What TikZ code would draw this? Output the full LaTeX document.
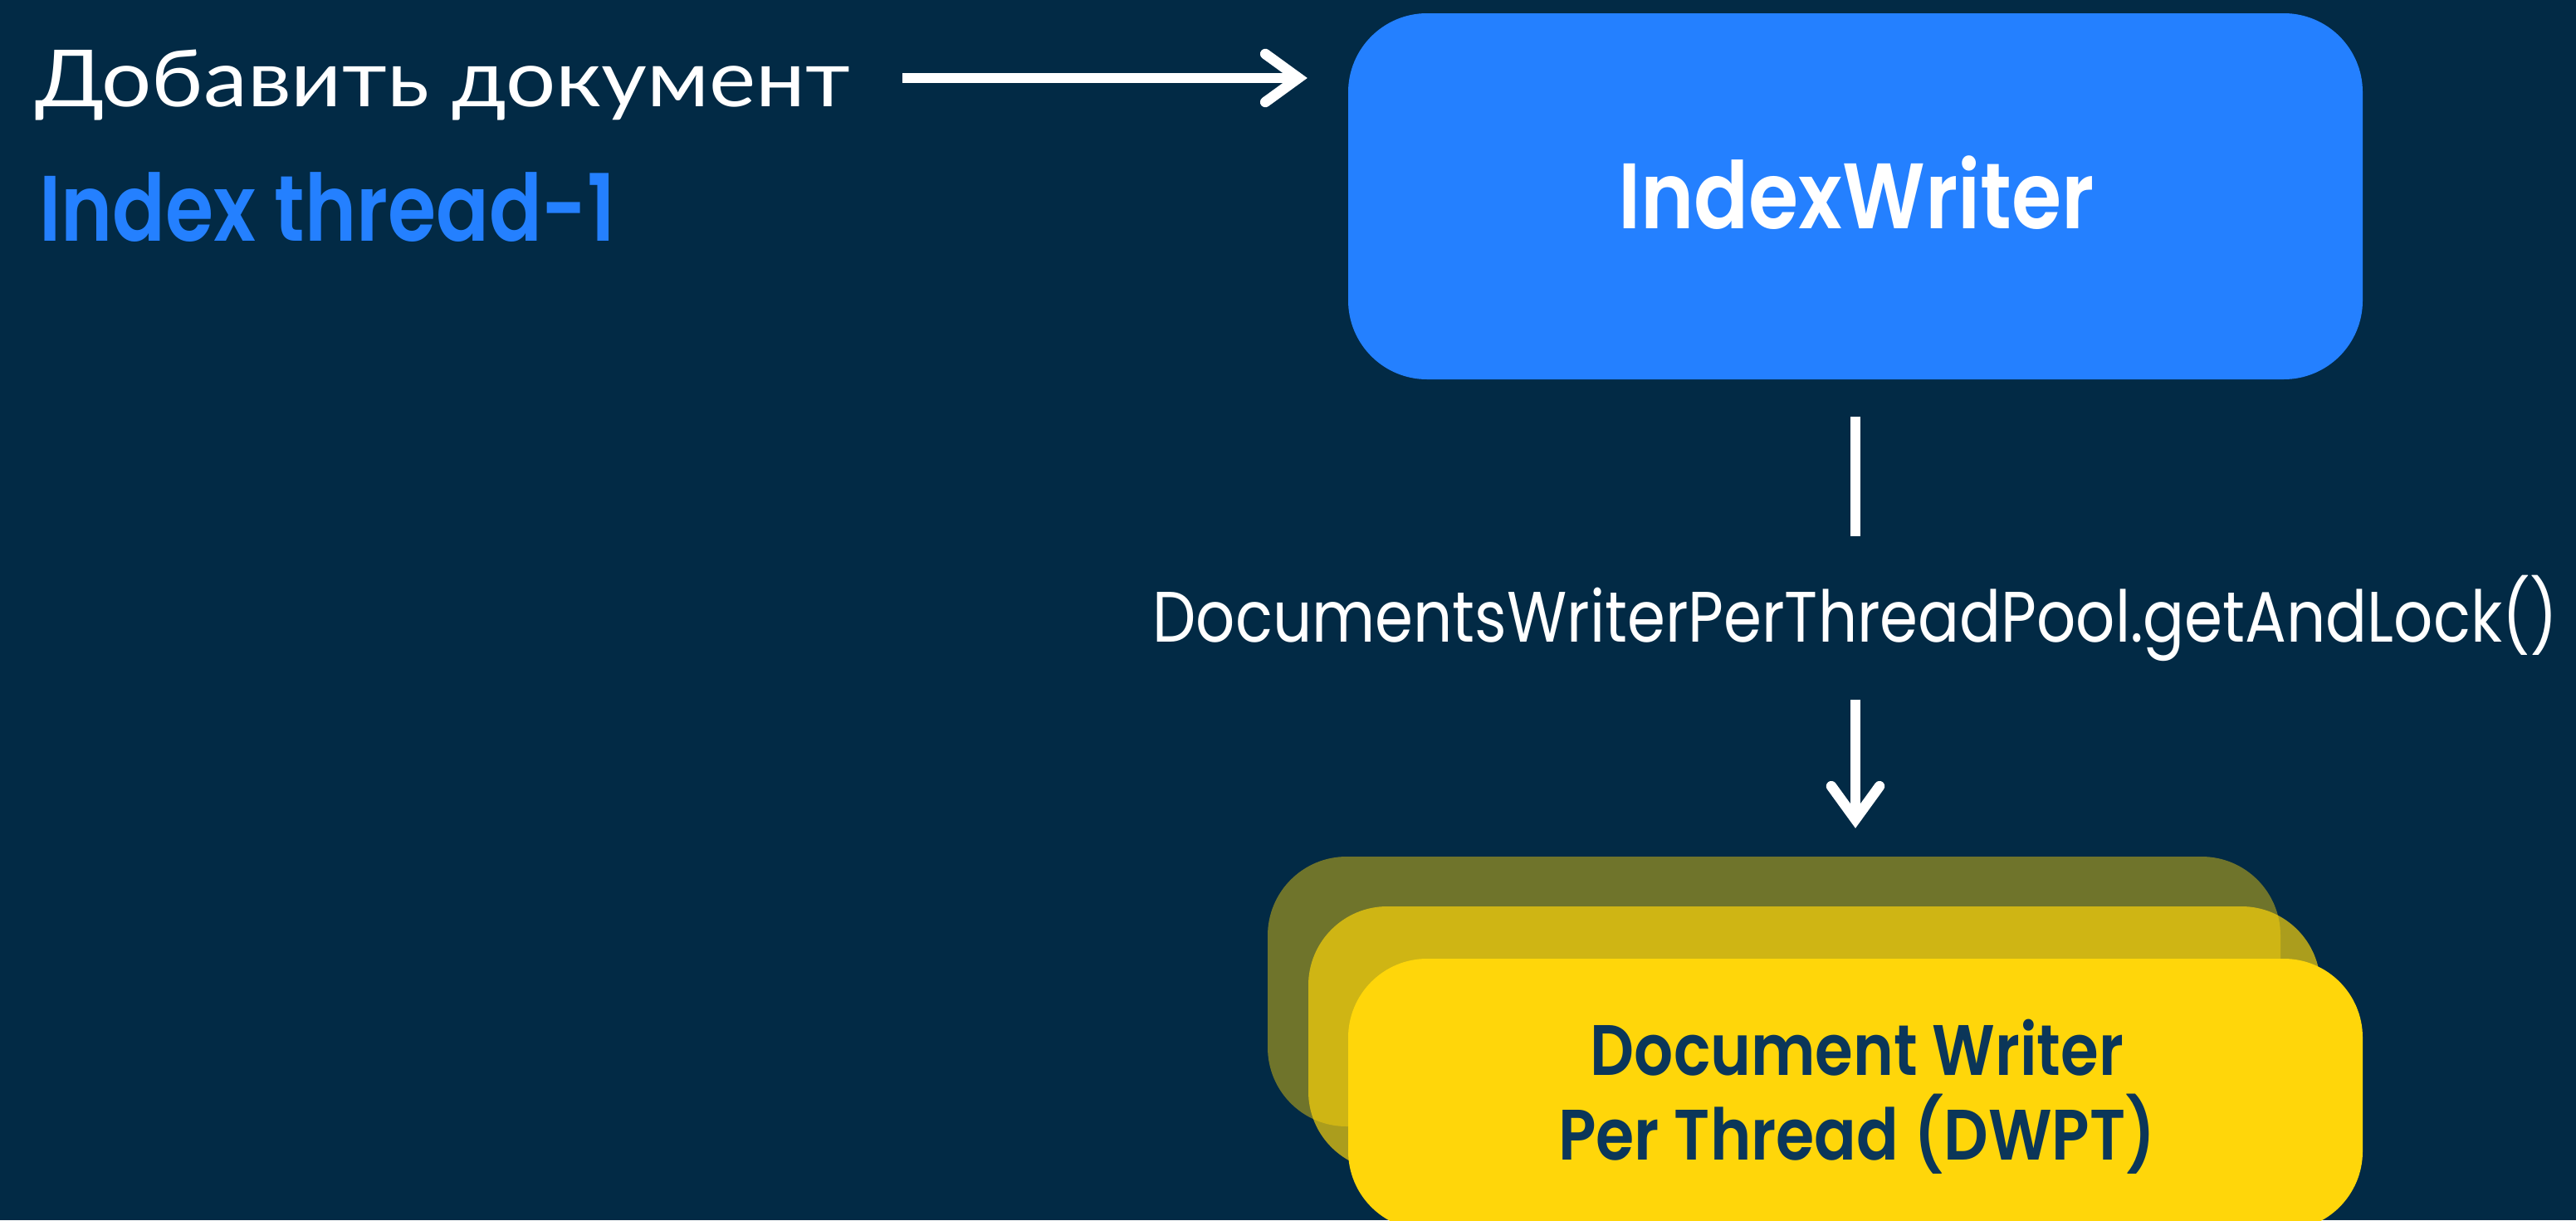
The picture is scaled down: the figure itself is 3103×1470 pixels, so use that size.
\documentclass[tikz,border=0pt]{standalone}
\usepackage{fontspec}
\setmainfont{Poppins}
\newfontfamily\psemi{Poppins SemiBold}
\newfontfamily\cyrfont{Lato}
\usetikzlibrary{arrows.meta}
\definecolor{bg}{HTML}{022A45}
\definecolor{iwblue}{HTML}{2480FF}
\definecolor{dwyellow}{HTML}{FFD60A}
\definecolor{dwtext}{HTML}{0B3659}
\begin{document}
\begin{tikzpicture}[x=1pt,y=-1pt,
  box/.style={rectangle,rounded corners=95pt,inner sep=0pt},
  txt/.style={inner sep=0pt,text depth=0pt},
  line/.style={draw=white,line width=12.5pt},
  conn/.style={line,-{Straight Barb[length=40pt,width=58pt,line cap=round]}}]
\fill[bg] (0,0) rectangle (3103,1470);
\useasboundingbox (0,0) rectangle (3103,1470);
% boxes
\node[box,fill=iwblue,minimum width=1222pt,minimum height=441pt] (iw) at (2235,236.5) {};
\node[txt,text height=78pt,text=white,font=\psemi\fontsize{112}{112}\selectfont] (iwt) at (2236,236) {\scalebox{0.87}[1]{IndexWriter}};
\node[box,fill=dwyellow,fill opacity=0.43,minimum width=1220pt,minimum height=325pt] (back) at (2137,1194.5) {};
\node[box,fill=dwyellow,fill opacity=0.67,minimum width=1219pt,minimum height=318pt] (mid) at (2185.5,1251) {};
\node[box,fill=dwyellow,minimum width=1222pt,minimum height=327pt] (front) at (2235,1318.5) {};
\node[txt,text height=60pt,text=dwtext,font=\psemi\fontsize{86}{86}\selectfont] (ft1) at (2237,1265) {\scalebox{0.86}[1]{Document Writer}};
\node[txt,text height=60pt,text=dwtext,font=\psemi\fontsize{86}{86}\selectfont] (ft2) at (2237,1367) {\scalebox{0.87}[1]{Per Thread (DWPT)}};
% left texts
\node[txt,anchor=west,text height=68pt,text=white,font=\cyrfont\fontsize{95}{95}\selectfont] (add) at (42,94) {\scalebox{1.12}[1]{Добавить документ}};
\node[txt,anchor=west,text height=78pt,text=iwblue,font=\psemi\fontsize{112}{112}\selectfont] (thr) at (47,251) {\scalebox{0.84}[1]{Index thread-1}};
% label
\node[txt,text height=60pt,text=white,font=\fontsize{86}{86}\selectfont] (lbl) at (2235,743) {\scalebox{0.86}[1]{DocumentsWriterPerThreadPool.getAndLock()}};
% connectors
\coordinate (hs) at (1087,94);
\draw[conn,shorten >=49pt] (hs) -- (hs -| iw.west);
\draw[line,shorten <=45pt,shorten >=67pt] (iw.south) -- (lbl.north);
\draw[conn,shorten <=70pt,shorten >=157pt] (lbl.south) -- (front.north);
\end{tikzpicture}
\end{document}
